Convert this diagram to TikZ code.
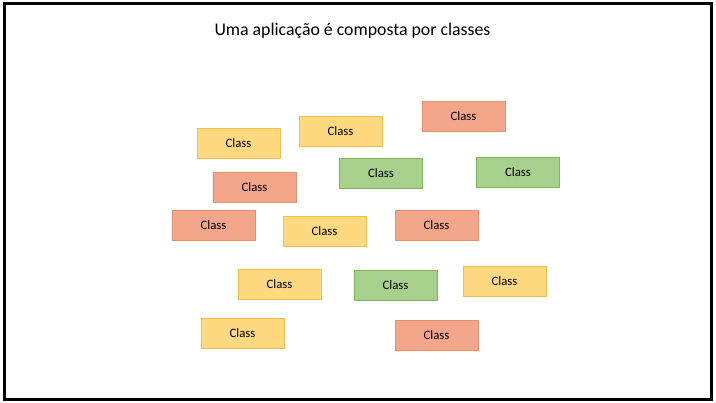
\documentclass[tikz,border=0pt]{standalone}
\usepackage{fontspec}
\setmainfont{Carlito}
\usepackage{tikz}
\definecolor{yfill}{HTML}{FFD97F}
\definecolor{ydraw}{HTML}{F5BE4C}
\definecolor{rfill}{HTML}{F4A68A}
\definecolor{rdraw}{HTML}{E98E6C}
\definecolor{gfill}{HTML}{A8D08D}
\definecolor{gdraw}{HTML}{7DB45C}

\begin{document}
\begin{tikzpicture}[x=1pt, y=-1pt,
    classbox/.style={minimum width=83pt, minimum height=30pt, inner sep=0pt, line width=0.8pt, font=\fontsize{12.8}{15}\selectfont},
    yellowbox/.style={classbox, fill=yfill, draw=ydraw},
    redbox/.style={classbox, fill=rfill, draw=rdraw},
    greenbox/.style={classbox, fill=gfill, draw=gdraw}]
            \useasboundingbox (0,0) rectangle (716,403);
            \draw[line width=3pt] (4,4) rectangle (711.5,399.5);
            \node[font=\fontsize{17.8}{21}\selectfont] (title) at (352.5,31) {Uma aplicação é composta por classes};
            % first row
            \node[yellowbox] (c1) at (238.5,143.5) {Class};
            \node[yellowbox] (c2) at (340.5,131) {Class};
            \node[redbox] (c3) at (463.5,116) {Class};
            % second row
            \node[greenbox] (c4) at (381,173) {Class};
            \node[greenbox] (c5) at (518,172) {Class};
            \node[redbox] (c6) at (254.5,187) {Class};
            % third row
            \node[redbox] (c7) at (213.5,225) {Class};
            \node[yellowbox] (c8) at (324.5,231.5) {Class};
            \node[redbox] (c9) at (436.5,225) {Class};
            % fourth row
            \node[yellowbox] (c10) at (279.5,284) {Class};
            \node[greenbox] (c11) at (395.5,285) {Class};
            \node[yellowbox] (c12) at (504.5,281) {Class};
            % last row
            \node[yellowbox] (c13) at (242.5,333) {Class};
            \node[redbox] (c14) at (436.5,335) {Class};
        \end{tikzpicture}
\end{document}
